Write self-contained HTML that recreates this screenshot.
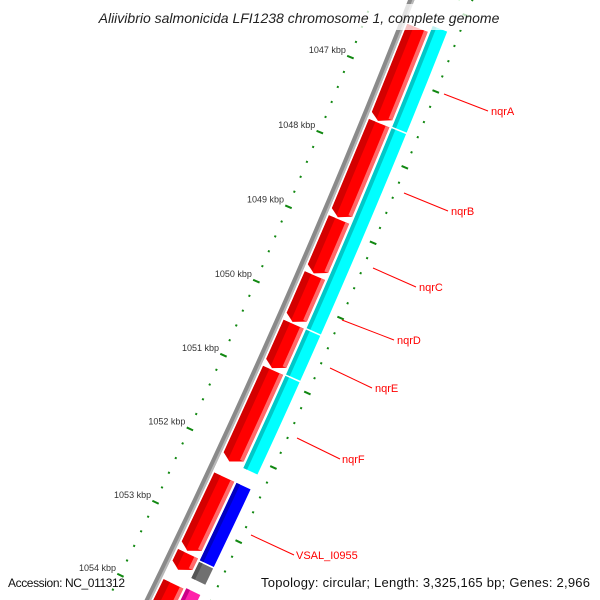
<!DOCTYPE html>
<html><head><meta charset="utf-8"><style>
html,body{margin:0;padding:0;background:#fff;width:600px;height:600px;overflow:hidden}
svg{display:block;font-family:"Liberation Sans",sans-serif}
</style></head><body>
<svg id="map" width="600" height="600" viewBox="0 0 600 600" xmlns="http://www.w3.org/2000/svg">
<g id="track"></g>
<g id="ticktext" font-size="9" fill="#333"></g>
<g font-size="11" fill="#f00" stroke-width="1">
<line x1="444" y1="94" x2="488" y2="111" stroke="#f00"/><text x="491" y="115">nqrA</text>
<line x1="404" y1="193" x2="448" y2="211" stroke="#f00"/><text x="451" y="215">nqrB</text>
<line x1="373" y1="268" x2="416" y2="287" stroke="#f00"/><text x="419" y="291">nqrC</text>
<line x1="342" y1="320" x2="394" y2="340" stroke="#f00"/><text x="397" y="344">nqrD</text>
<line x1="330" y1="368" x2="372" y2="388" stroke="#f00"/><text x="375" y="392">nqrE</text>
<line x1="297" y1="438" x2="340" y2="459" stroke="#f00"/><text x="342" y="463">nqrF</text>
<line x1="251" y1="535" x2="294" y2="555" stroke="#f00"/><text x="296" y="559">VSAL_I0955</text>
</g>
<rect x="70" y="4" width="460" height="26" fill="#fff" opacity="0.75"/>
<text x="299" y="23" font-size="14" font-style="italic" text-anchor="middle" fill="#222">Aliivibrio salmonicida LFI1238 chromosome 1, complete genome</text>
<text x="8" y="587" font-size="12" fill="#111" textLength="117">Accession: NC_011312</text>
<text x="261" y="587" font-size="13" fill="#111" textLength="329">Topology: circular; Length: 3,325,165 bp; Genes: 2,966</text>
</svg>
<script>
const KBP_PX = 81, KMID = 1050, R = 8000, SAG = 3.7;
const outerStarts = [1046.36,1047.62,1048.90,1049.65,1050.30,1050.92,1052.36,1053.40,1053.81];
const outerEnds   = [1047.60,1048.88,1049.63,1050.28,1050.90,1052.16,1053.37,1053.63,1055.00];
const innerStarts = [1044.00,1046.27,1047.62,1050.30,1050.92,1052.36,1053.43,1053.79];
const innerEnds   = [1045.86,1047.60,1050.28,1050.90,1052.16,1053.41,1053.65,1055.00];
const innerKinds  = ['green','cyan','cyan','cyan','cyan','blue','gray','magenta'];
const tickStart = 1045, tickEnd = 1055, minorStep = 0.2;
const NS='http://www.w3.org/2000/svg';
const g=document.getElementById('track'), tt=document.getElementById('ticktext');
const d=[-0.401,0.916], n=[0.916,0.401], M=[252.5,279.5];
const C=[M[0]+(SAG-R)*n[0], M[1]+(SAG-R)*n[1]];
function P(k,v){const f=(k-KMID)*KBP_PX/R, c=Math.cos(f), s=Math.sin(f);
  const r=[n[0]*c+d[0]*s, n[1]*c+d[1]*s];
  return [C[0]+(R+v)*r[0], C[1]+(R+v)*r[1]];}
function band(k0,k1,v0,v1){const pts=[],N=Math.max(2,Math.ceil((k1-k0)/0.25));
  for(let i=0;i<=N;i++)pts.push(P(k0+(k1-k0)*i/N,v0));
  for(let i=N;i>=0;i--)pts.push(P(k0+(k1-k0)*i/N,v1));
  return pts.map(p=>p[0].toFixed(2)+','+p[1].toFixed(2)).join(' ');}
function mk(tag,attrs,parent){const e=document.createElementNS(NS,tag);for(const a in attrs)e.setAttribute(a,attrs[a]);(parent||g).appendChild(e);return e;}
// backbone
const bb=mk('polygon',{points:band(1044,1056,33,39),fill:'#8a8a8a'});


mk('polygon',{points:band(1044,1056,37,39),fill:'#b8b8b8'});
// outer red arrows
for(let i=0;i<outerStarts.length;i++){
  const a=outerStarts[i], b=outerEnds[i], h=Math.min(6/KBP_PX,(b-a)/2), bh=b-h;
  const pts=[P(a,41),P(bh,41),P(b,50),P(bh,63),P(a,63)].map(p=>p.join(',')).join(' ');
  const p=mk('polygon',{points:pts,fill:'#ff0000'});
  
  
  mk('polygon',{points:[P(a,41),P(bh,41),P(b-h*0.3,48),P(a,48)].map(q=>q.join(',')).join(' '),fill:'#d40000'});
  mk('polygon',{points:band(a,bh,59,63),fill:'#ff6a6a'});
}
const cols={green:['#33cc33','#22aa22'],cyan:['#00ffff','#00c8c8'],blue:['#0000ff','#0000c0'],gray:['#707070','#555'],magenta:['#ff22aa','#cc0088']};
for(let i=0;i<innerStarts.length;i++){
  const a=innerStarts[i], b=innerEnds[i], c=cols[innerKinds[i]];
  const r=mk('polygon',{points:band(a,b,65.5,81),fill:c[0]});
  
  
  mk('polygon',{points:band(a,b,65.5,69.5),fill:c[1]});
}
// ticks
const hw=1/KBP_PX;
for(let k=tickStart;k<=tickEnd+1e-6;k+=minorStep){
  const kk=Math.round(k*10)/10, major=Math.abs(kk-Math.round(kk))<1e-6;
  const t1=mk('polygon',{points:band(kk-hw,kk+hw,major?-3:-1,major?4:1),fill:'#118811'});
  
  
  const t2=mk('polygon',{points:band(kk-hw,kk+hw,major?89:92,major?96:94),fill:'#118811'});
  
  
  if(major){
    const p=P(kk,0);
    const tx=mk('text',{x:(p[0]-4).toFixed(1),y:(p[1]-4).toFixed(1),'text-anchor':'end'},tt);
    
    
    tx.textContent=Math.round(kk)+' kbp';
  }
}
</script>
</body></html>
